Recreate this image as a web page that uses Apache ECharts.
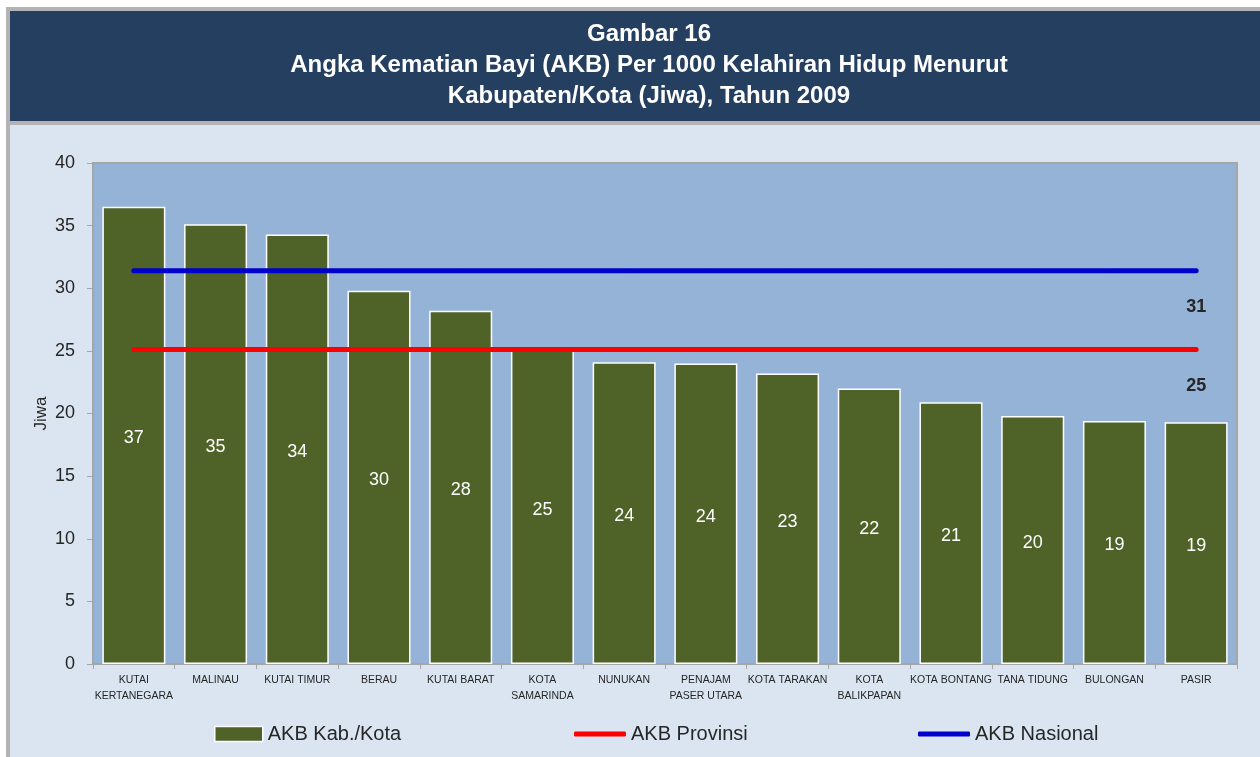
<!DOCTYPE html>
<html>
<head>
<meta charset="utf-8">
<script src="https://cdn.jsdelivr.net/npm/echarts@6/dist/echarts.min.js"></script>
<style>
  html, body { margin: 0; padding: 0; background: #fff; }
  #chart { width: 1260px; height: 757px; }
</style>
</head>
<body>
<div id="chart"></div>
<script>
// kabupaten / kota
var categories = ['KUTAI\nKERTANEGARA', 'MALINAU', 'KUTAI TIMUR', 'BERAU', 'KUTAI BARAT', 'KOTA\nSAMARINDA',
  'NUNUKAN', 'PENAJAM\nPASER UTARA', 'KOTA TARAKAN', 'KOTA\nBALIKPAPAN', 'KOTA BONTANG', 'TANA TIDUNG',
  'BULONGAN', 'PASIR'];
// AKB per kab./kota
var akbKab = [36.5, 35.1, 34.3, 29.8, 28.2, 25.1, 24.1, 24.0, 23.2, 22.0, 20.9, 19.8, 19.4, 19.3];
// garis provinsi & nasional
var akbProvinsi = [25.1, 25.1, 25.1, 25.1, 25.1, 25.1, 25.1, 25.1, 25.1, 25.1, 25.1, 25.1, 25.1, 25.1];
var akbNasional = [31.4, 31.4, 31.4, 31.4, 31.4, 31.4, 31.4, 31.4, 31.4, 31.4, 31.4, 31.4, 31.4, 31.4];
var yTicks = { min: 0, max: 40, interval: 5 };

var font = 'Liberation Sans, Arial, sans-serif';

// label only on the last point of a reference line
function endLabelData(arr) {
  return arr.map(function (v, i) {
    if (i !== arr.length - 1) return v;
    return {
      value: v,
      label: {
        show: true,
        position: 'bottom',
        distance: 25,
        fontFamily: font,
        fontSize: 18,
        fontWeight: 'bold',
        color: '#262626',
        formatter: function (p) { return Math.round(p.value); }
      }
    };
  });
}

var chart = echarts.init(document.getElementById('chart'));
chart.setOption({
  backgroundColor: '#ffffff',
  animation: false,
  graphic: [
    { type: 'rect', z: -30, silent: true, shape: { x: 6, y: 7, width: 1254, height: 750 }, style: { fill: '#b3b3b5' } },
    { type: 'rect', z: -20, silent: true, shape: { x: 10, y: 11, width: 1250, height: 110 }, style: { fill: '#243f60' } },
    { type: 'rect', z: -20, silent: true, shape: { x: 10, y: 125, width: 1250, height: 632 }, style: { fill: '#dbe5f1' } }
  ],
  title: {
    text: 'Gambar 16\nAngka Kematian Bayi (AKB) Per 1000 Kelahiran Hidup Menurut\nKabupaten/Kota (Jiwa), Tahun 2009',
    left: 644,
    top: 14,
    textAlign: 'center',
    textStyle: {
      color: '#ffffff',
      fontFamily: font,
      fontWeight: 'bold',
      fontSize: 24,
      lineHeight: 31
    }
  },
  grid: {
    left: 93,
    right: 23,
    top: 163,
    bottom: 93,
    show: true,
    backgroundColor: '#95b3d7',
    borderColor: '#a6a6a6',
    borderWidth: 2
  },
  legend: [
    {
      left: 214, top: 724, padding: 0,
      data: ['AKB Kab./Kota'],
      icon: 'rect',
      itemWidth: 48, itemHeight: 15,
      itemStyle: { borderColor: '#ffffff', borderWidth: 1.5 },
      textStyle: { fontFamily: font, fontSize: 20, color: '#262626' }
    },
    {
      left: 574, top: 724, padding: 0,
      data: ['AKB Provinsi'],
      icon: 'roundRect',
      itemWidth: 52, itemHeight: 5,
      itemStyle: { borderWidth: 0 },
      textStyle: { fontFamily: font, fontSize: 20, color: '#262626' }
    },
    {
      left: 918, top: 724, padding: 0,
      data: ['AKB Nasional'],
      icon: 'roundRect',
      itemWidth: 52, itemHeight: 5,
      itemStyle: { borderWidth: 0 },
      textStyle: { fontFamily: font, fontSize: 20, color: '#262626' }
    }
  ],
  xAxis: {
    type: 'category',
    data: categories,
    axisLine: { lineStyle: { color: '#a6a6a6', width: 1.5 } },
    axisTick: { show: true, length: 5, lineStyle: { color: '#a6a6a6' } },
    axisLabel: {
      interval: 0,
      margin: 8,
      fontFamily: font,
      fontSize: 10.5,
      lineHeight: 16,
      color: '#262626',
      align: 'center'
    }
  },
  yAxis: {
    type: 'value',
    min: yTicks.min,
    max: yTicks.max,
    interval: yTicks.interval,
    name: 'Jiwa',
    nameLocation: 'middle',
    nameRotate: 90,
    nameGap: 43,
    nameMoveOverlap: false,
    nameTextStyle: { fontFamily: font, fontSize: 17, color: '#262626' },
    splitLine: { show: false },
    axisLine: { show: true, lineStyle: { color: '#a6a6a6', width: 1.5 } },
    axisTick: { show: true, length: 6, lineStyle: { color: '#a6a6a6' } },
    axisLabel: { margin: 18, fontFamily: font, fontSize: 18, color: '#262626' }
  },
  series: [
    {
      name: 'AKB Kab./Kota',
      type: 'bar',
      data: akbKab,
      barWidth: 63,
      itemStyle: { color: '#4f6228', borderColor: '#ffffff', borderWidth: 1.5 },
      label: {
        show: true,
        position: 'inside',
        offset: [0, 3],
        fontFamily: font,
        fontSize: 18,
        color: '#ffffff',
        formatter: function (p) { return Math.round(p.value); }
      },
      z: 2
    },
    {
      name: 'AKB Provinsi',
      type: 'line',
      data: endLabelData(akbProvinsi),
      color: '#ff0000',
      symbol: 'circle',
      symbolSize: 4,
      lineStyle: { color: '#ff0000', width: 5, cap: 'round' },
      itemStyle: { color: '#ff0000', borderWidth: 0 },
      label: { show: false },
      z: 3
    },
    {
      name: 'AKB Nasional',
      type: 'line',
      data: endLabelData(akbNasional),
      color: '#0000cc',
      symbol: 'circle',
      symbolSize: 4,
      lineStyle: { color: '#0000cc', width: 5, cap: 'round' },
      itemStyle: { color: '#0000cc', borderWidth: 0 },
      label: { show: false },
      z: 3
    }
  ]
});
</script>
</body>
</html>
